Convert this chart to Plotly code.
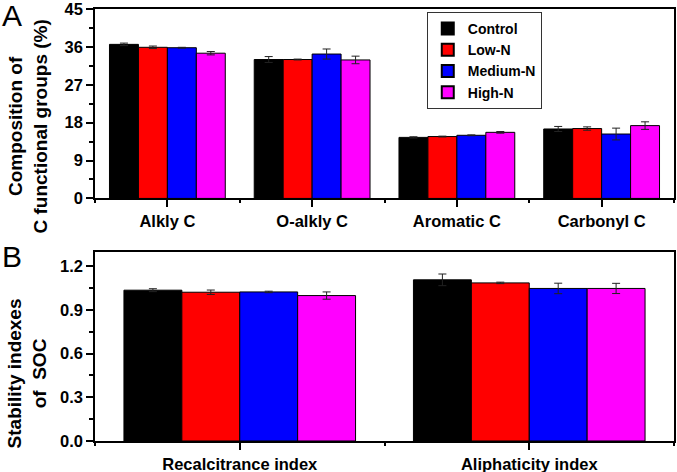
import plotly.graph_objects as go

# ---------------- data ----------------
series_names = ["Control", "Low-N", "Medium-N", "High-N"]
series_colors = ["#000000", "#FF0000", "#0000FF", "#FF00FF"]

categories_a = ["Alkly C", "O-alkly C", "Aromatic C", "Carbonyl C"]
control_a = [36.6, 33.0, 14.5, 16.5]
low_a = [35.9, 33.0, 14.7, 16.6]
medium_a = [35.8, 34.3, 15.0, 15.3]
high_a = [34.5, 32.9, 15.7, 17.3]
control_a_err = [0.3, 0.7, 0.15, 0.6]
low_a_err = [0.3, 0.1, 0.1, 0.4]
medium_a_err = [0.1, 1.2, 0.1, 1.4]
high_a_err = [0.4, 0.9, 0.2, 0.9]

categories_b = ["Recalcitrance index", "Aliphaticity index"]
control_b = [1.035, 1.106]
low_b = [1.021, 1.085]
medium_b = [1.023, 1.047]
high_b = [0.998, 1.047]
control_b_err = [0.01, 0.04]
low_b_err = [0.015, 0.005]
medium_b_err = [0.005, 0.036]
high_b_err = [0.025, 0.035]

y_ticks_a = [0, 9, 18, 27, 36, 45]
y_ticks_b = [0.0, 0.3, 0.6, 0.9, 1.2]

# ---------------- figure ----------------
FONT = "Liberation Sans, Arial, sans-serif"
fig = go.Figure()

vals_a = [control_a, low_a, medium_a, high_a]
errs_a = [control_a_err, low_a_err, medium_a_err, high_a_err]
vals_b = [control_b, low_b, medium_b, high_b]
errs_b = [control_b_err, low_b_err, medium_b_err, high_b_err]

xa = list(range(len(categories_a)))
xb = list(range(len(categories_b)))

for name, col, v, e in zip(series_names, series_colors, vals_a, errs_a):
    fig.add_trace(go.Bar(
        x=xa, y=v, name=name, xaxis="x", yaxis="y",
        marker=dict(color=col, line=dict(color="#000000", width=1)),
        error_y=dict(type="data", array=e, visible=True, color="#222222",
                     thickness=1, width=4),
        showlegend=True,
    ))
for name, col, v, e in zip(series_names, series_colors, vals_b, errs_b):
    fig.add_trace(go.Bar(
        x=xb, y=v, name=name, xaxis="x2", yaxis="y2",
        marker=dict(color=col, line=dict(color="#000000", width=1)),
        error_y=dict(type="data", array=e, visible=True, color="#222222",
                     thickness=1, width=4),
        showlegend=False,
    ))

tickfont = dict(family=FONT, size=16.5, color="#000000", weight="bold")
axis_common = dict(showline=True, linecolor="#000000", linewidth=1.5,
                   mirror=True, ticks="outside", ticklen=7, tickwidth=1.5,
                   tickcolor="#000000", showgrid=False, zeroline=False,
                   tickfont=tickfont, automargin=False,
                   ticklabeloverflow="allow")

top_dom = [0.5615, 1.0]
bot_dom = [0.0, 0.4385]

fig.update_layout(
    width=677, height=472,
    margin=dict(l=95, r=3, t=9, b=31, autoexpand=False),
    paper_bgcolor="#FFFFFF", plot_bgcolor="#FFFFFF",
    barmode="group", bargap=0.2, bargroupgap=0.0,
    font=dict(family=FONT, color="#000000"),
    xaxis=dict(axis_common, domain=[0, 1], anchor="y",
               range=[-0.5, len(categories_a) - 0.5],
               tickmode="array", tickvals=xa, ticktext=categories_a,
               minor=dict(tickmode="array",
                          tickvals=[i - 0.5 for i in range(len(categories_a) + 1)],
                          ticks="outside", ticklen=3, tickcolor="#000000", tickwidth=1.5)),
    yaxis=dict(axis_common, domain=top_dom, anchor="x",
               range=[0, 45.0001], tickmode="array", tickvals=y_ticks_a,
               ticktext=[str(t) for t in y_ticks_a],
               minor=dict(tickmode="array",
                          tickvals=[4.5, 13.5, 22.5, 31.5, 40.5],
                          ticks="outside", ticklen=4, tickcolor="#000000", tickwidth=1.5)),
    xaxis2=dict(axis_common, domain=[0, 1], anchor="y2",
                range=[-0.5, len(categories_b) - 0.5],
                tickmode="array", tickvals=xb, ticktext=categories_b,
                minor=dict(tickmode="array",
                           tickvals=[i - 0.5 for i in range(len(categories_b) + 1)],
                           ticks="outside", ticklen=3, tickcolor="#000000", tickwidth=1.5)),
    yaxis2=dict(axis_common, domain=bot_dom, anchor="x2",
                range=[0, 1.3], tickmode="array", tickvals=y_ticks_b,
                ticktext=["%.1f" % t for t in y_ticks_b],
                minor=dict(tickmode="array",
                           tickvals=[0.15, 0.45, 0.75, 1.05],
                           ticks="outside", ticklen=4, tickcolor="#000000", tickwidth=1.5)),
    legend=dict(x=0.573, y=0.993, xanchor="left", yanchor="top",
                bordercolor="#333333", borderwidth=1, bgcolor="#FFFFFF",
                font=dict(family=FONT, size=14, color="#000000", weight="bold"),
                tracegroupgap=0, itemsizing="constant"),
    annotations=[
        dict(text="Composition of<br>C functional groups (%)", xref="paper", yref="paper",
             x=-0.115, y=0.729, xanchor="center", yanchor="middle", textangle=-90,
             showarrow=False, font=dict(family=FONT, size=19, color="#000000", weight="bold")),
        dict(text="Stability indexes<br>of  SOC", xref="paper", yref="paper",
             x=-0.117, y=0.157, xanchor="center", yanchor="middle", textangle=-90,
             showarrow=False, font=dict(family=FONT, size=19, color="#000000", weight="bold")),
        dict(text="A", xref="paper", yref="paper", x=-0.143, y=0.984,
             xanchor="center", yanchor="middle", showarrow=False,
             font=dict(family=FONT, size=30, color="#000000")),
        dict(text="B", xref="paper", yref="paper", x=-0.143, y=0.428,
             xanchor="center", yanchor="middle", showarrow=False,
             font=dict(family=FONT, size=30, color="#000000")),
    ],
)

fig.write_html("out.html",
               config={"displayModeBar": False},
               post_script="document.body.style.margin='0';document.body.style.overflow='hidden';")
